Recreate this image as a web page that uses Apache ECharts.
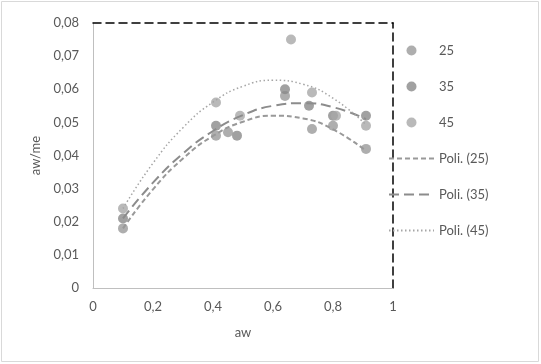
<!DOCTYPE html>
<html>
<head>
<meta charset="utf-8">
<script src="https://cdn.jsdelivr.net/npm/echarts@6/dist/echarts.min.js"></script>
<style>
  html, body { margin: 0; padding: 0; background: #fff; }
  #main { width: 541px; height: 364px; }
</style>
</head>
<body>
<div id="main"></div>
<script>
  // measured points, [aw, aw/me]
  var data25 = [[0.1, 0.018], [0.41, 0.046], [0.45, 0.047], [0.64, 0.058], [0.73, 0.048], [0.8, 0.049], [0.91, 0.042]];
  var data35 = [[0.1, 0.021], [0.41, 0.049], [0.48, 0.046], [0.64, 0.060], [0.72, 0.055], [0.8, 0.052], [0.91, 0.052]];
  var data45 = [[0.1, 0.024], [0.41, 0.056], [0.49, 0.052], [0.66, 0.075], [0.73, 0.059], [0.81, 0.052], [0.91, 0.049]];

  // trendlines
  var trendX = [0.1, 0.2, 0.3, 0.4, 0.5, 0.6, 0.7, 0.8, 0.91];
  var trend25 = [0.018, 0.0298, 0.0391, 0.0459, 0.0502, 0.052, 0.0512, 0.0479, 0.0414];
  var trend35 = [0.021, 0.0318, 0.0406, 0.0474, 0.0522, 0.055, 0.0558, 0.0546, 0.051];
  var trend45 = [0.024, 0.0377, 0.0484, 0.0561, 0.0609, 0.0627, 0.0615, 0.0573, 0.0493];

  var xTicks = [0, 0.2, 0.4, 0.6, 0.8, 1];
  var yTicks = [0, 0.01, 0.02, 0.03, 0.04, 0.05, 0.06, 0.07, 0.08];

  function pairs(xs, ys) {
    return xs.map(function (x, i) { return [x, ys[i]] })
  }
  function comma(v) {
    return String(v).replace('.', ',')
  }

  var textColor = '#595959'
  var font = 'Lato'
  var chart = echarts.init(document.getElementById('main'))

  var noSymbol = {opacity: 0}

  var option = {
    animation: false,
    textStyle: {fontFamily: font},
    graphic: [{
      type: 'rect',
      shape: {x: 1.5, y: 1.5, width: 537, height: 360},
      style: {fill: 'none', stroke: '#d9d9d9', lineWidth: 1},
      silent: true
    }],
    grid: {left: 93, right: 148, top: 23, bottom: 76},
    legend: {
      orient: 'vertical',
      left: 383,
      top: 39,
      itemWidth: 45,
      itemHeight: 10,
      itemGap: 23,
      textStyle: {color: textColor, fontSize: 13, fontFamily: font},
      data: ['25', '35', '45',
        {name: 'Poli. (25)', itemStyle: noSymbol},
        {name: 'Poli. (35)', itemStyle: noSymbol},
        {name: 'Poli. (45)', itemStyle: noSymbol}]
    },
    xAxis: [{
      type: 'value',
      min: 0, max: 1, interval: 0.2,
      name: 'aw',
      nameLocation: 'middle',
      nameGap: 38,
      nameTextStyle: {color: textColor, fontSize: 13},
      axisLine: {show: true, lineStyle: {color: '#bfbfbf', width: 1}},
      axisTick: {show: false},
      splitLine: {show: false},
      axisLabel: {color: textColor, fontSize: 13, margin: 12, formatter: comma}
    }, {
      type: 'value',
      position: 'top',
      min: 0, max: 1,
      axisLine: {show: true, onZero: false, lineStyle: {color: '#000', width: 1.5, type: [8, 5]}},
      axisTick: {show: false},
      axisLabel: {show: false},
      splitLine: {show: false}
    }],
    yAxis: [{
      type: 'value',
      min: 0, max: 0.08, interval: 0.01,
      name: 'aw/me',
      nameLocation: 'middle',
      nameGap: 48,
      nameTextStyle: {color: textColor, fontSize: 13},
      axisLine: {show: true, lineStyle: {color: '#bfbfbf', width: 1}},
      axisTick: {show: false},
      splitLine: {show: false},
      axisLabel: {color: textColor, fontSize: 13, margin: 14, formatter: comma}
    }, {
      type: 'value',
      position: 'right',
      min: 0, max: 0.08,
      axisLine: {show: true, onZero: false, lineStyle: {color: '#000', width: 1.5, type: [8, 5]}},
      axisTick: {show: false},
      axisLabel: {show: false},
      splitLine: {show: false}
    }],
    series: [
      {name: '25', type: 'scatter', symbolSize: 10, itemStyle: {color: '#9a9a9a'}, data: data25, z: 3},
      {name: '35', type: 'scatter', symbolSize: 10, itemStyle: {color: '#8a8a8a'}, data: data35, z: 3},
      {name: '45', type: 'scatter', symbolSize: 10, itemStyle: {color: '#a8a8a8'}, data: data45, z: 3},
      {
        name: 'Poli. (25)', type: 'line', smooth: true, showSymbol: false, symbol: 'none',
        itemStyle: {color: '#999999'},
        lineStyle: {color: '#999999', width: 2, type: [5, 3]},
        data: pairs(trendX, trend25), z: 4
      },
      {
        name: 'Poli. (35)', type: 'line', smooth: true, showSymbol: false, symbol: 'none',
        itemStyle: {color: '#8c8c8c'},
        lineStyle: {color: '#8c8c8c', width: 2, type: [10, 5]},
        data: pairs(trendX, trend35), z: 4
      },
      {
        name: 'Poli. (45)', type: 'line', smooth: true, showSymbol: false, symbol: 'none',
        itemStyle: {color: '#a6a6a6'},
        lineStyle: {color: '#a6a6a6', width: 1.5, type: [1.5, 2.5]},
        data: pairs(trendX, trend45), z: 4
      }
    ]
  };

  option && chart.setOption(option);
</script>
</body>
</html>
